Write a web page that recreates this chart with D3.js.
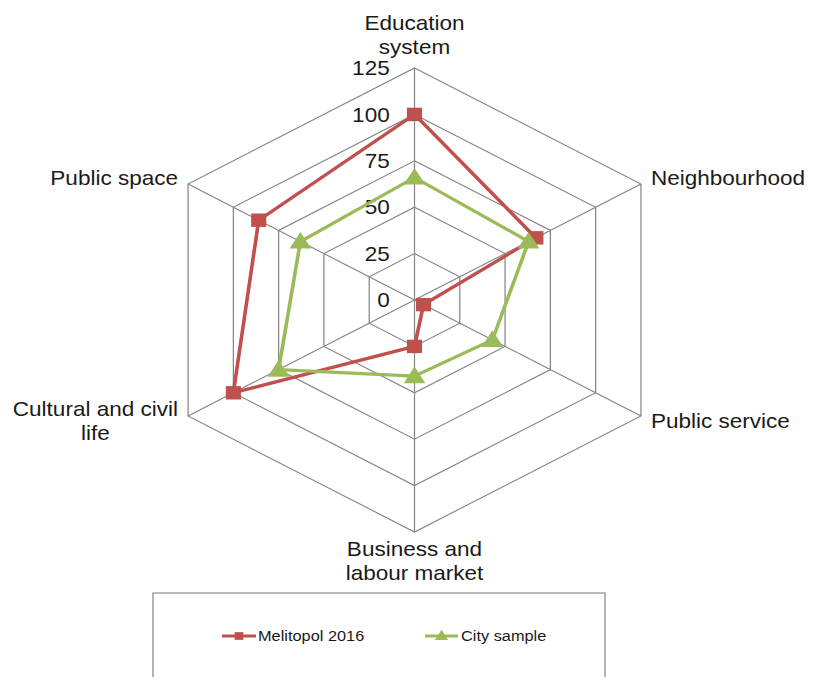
<!DOCTYPE html>
<html>
<head>
<meta charset="utf-8">
<script src="https://cdn.jsdelivr.net/npm/d3@7"></script>
<style>
  html, body { margin: 0; padding: 0; background: #fff; }
  svg { display: block; }
  text { font-family: "Liberation Sans", Arial, sans-serif; fill: #1a1a1a; }
</style>
</head>
<body>
<svg id="chart" width="813" height="677"></svg>
<script>
// Radar chart: Melitopol 2016 vs. city sample across six domains
const categories = [
  ["Education", "system"],
  ["Neighbourhood"],
  ["Public service"],
  ["Business and", "labour market"],
  ["Cultural and civil", "life"],
  ["Public space"]
];
const melitopol2016 = [100, 67, 5, 25, 100, 86];
const citySample = [66, 63, 43, 41, 75, 63];
const tickValues = [0, 25, 50, 75, 100, 125];
const seriesNames = ["Melitopol 2016", "City sample"];
const seriesColors = ["#C0504D", "#9BBB59"];

// The plot is drawn slightly wider than tall
const sx = 1.127;
const W = 813, H = 677;
const svg = d3.select("#chart")
  .attr("viewBox", `0 0 ${W / sx} ${H}`)
  .attr("preserveAspectRatio", "none");

const cx = 414.5 / sx, cy = 300;
const r = d3.scaleLinear().domain([0, 125]).range([0, 232]);
const angle = d3.scaleLinear().domain([0, categories.length]).range([0, 2 * Math.PI]);
const pt = (i, v) => [Math.sin(angle(i)) * r(v), -Math.cos(angle(i)) * r(v)];

const g = svg.append("g").attr("transform", `translate(${cx},${cy})`);

// Grid rings
const ringLine = d3.line();
const grid = g.append("g").attr("class", "grid");
tickValues.filter(v => v > 0).forEach(v => {
  const pts = categories.map((c, i) => pt(i, v));
  grid.append("path")
    .attr("d", ringLine(pts) + "Z")
    .attr("fill", "none")
    .attr("stroke", "#868686")
    .attr("stroke-width", 1.1);
});
// Spokes
categories.forEach((c, i) => {
  const [x, y] = pt(i, 125);
  grid.append("line")
    .attr("x1", 0).attr("y1", 0).attr("x2", x).attr("y2", y)
    .attr("stroke", "#868686")
    .attr("stroke-width", 1.1);
});

// Value axis labels along the top spoke
g.append("g").selectAll("text")
  .data(tickValues)
  .join("text")
  .attr("x", -22)
  .attr("y", d => -r(d))
  .attr("dy", "0.36em")
  .attr("text-anchor", "end")
  .attr("font-size", 20)
  .text(d => d);

// Category labels
const labels = g.append("g");
const lh = 24;
categories.forEach((lines, i) => {
  const [vx, vy] = pt(i, 125);
  const t = labels.append("text").attr("font-size", 20);
  const a = angle(i);
  const s = Math.sin(a);
  const n = lines.length;
  let anchor, x, y0;
  if (Math.abs(s) < 1e-6) {
    anchor = "middle"; x = 0;
    y0 = vy < 0 ? vy - 14 - (n - 1) * lh : vy + 24;
  } else {
    anchor = s > 0 ? "start" : "end";
    x = vx + (s > 0 ? 10 : -10) / sx;
    // text block centred a little above upper vertices, below lower ones
    const mid = vy < 0 ? vy - 6 : vy + 5;
    y0 = mid + 7 - (n - 1) * lh / 2;
  }
  t.attr("text-anchor", anchor);
  lines.forEach((line, k) => {
    t.append("tspan").attr("x", x).attr("y", y0 + k * lh).text(line);
  });
  // multi-line side labels are centred under their widest line
  if (Math.abs(s) > 1e-6 && n > 1) {
    const w = t.node().getBBox().width;
    t.attr("text-anchor", "middle");
    t.selectAll("tspan").attr("x", x + (s > 0 ? w / 2 : -w / 2));
  }
});

// Series
const series = [melitopol2016, citySample];
const radarLine = d3.line();
series.forEach((vals, si) => {
  const pts = vals.map((v, i) => pt(i, v));
  const sg = g.append("g");
  sg.append("path")
    .attr("d", radarLine(pts) + "Z")
    .attr("fill", "none")
    .attr("stroke", seriesColors[si])
    .attr("stroke-width", 3.2)
    .attr("stroke-linejoin", "round");
  const sym = si === 0 ? d3.symbolSquare : d3.symbolTriangle;
  sg.selectAll("path.marker")
    .data(pts)
    .join("path")
    .attr("class", "marker")
    .attr("transform", d => `translate(${d[0]},${d[1] + (si === 1 ? 1.5 : 0)})`)
    .attr("d", d3.symbol().type(sym).size(si === 0 ? 180 : 160))
    .attr("fill", seriesColors[si]);
});

// Legend
const lg = svg.append("g");
lg.append("rect")
  .attr("x", 153 / sx).attr("y", 593)
  .attr("width", (605 - 153) / sx).attr("height", 120)
  .attr("fill", "none")
  .attr("stroke", "#868686")
  .attr("stroke-width", 1.1);
const legendItems = [
  { x0: 222, x1: 256, tx: 258 },
  { x0: 425, x1: 458, tx: 461 }
];
legendItems.forEach((it, si) => {
  const y = 636;
  lg.append("line")
    .attr("x1", it.x0 / sx).attr("x2", it.x1 / sx)
    .attr("y1", y).attr("y2", y)
    .attr("stroke", seriesColors[si])
    .attr("stroke-width", 3.2);
  lg.append("path")
    .attr("transform", `translate(${(it.x0 + it.x1) / 2 / sx},${y + (si === 1 ? 0.5 : 0)})`)
    .attr("d", d3.symbol().type(si === 0 ? d3.symbolSquare : d3.symbolTriangle).size(60))
    .attr("fill", seriesColors[si]);
  lg.append("text")
    .attr("x", it.tx / sx).attr("y", y)
    .attr("dy", "0.36em")
    .attr("font-size", 14.5)
    .text(seriesNames[si]);
});
</script>
</body>
</html>
